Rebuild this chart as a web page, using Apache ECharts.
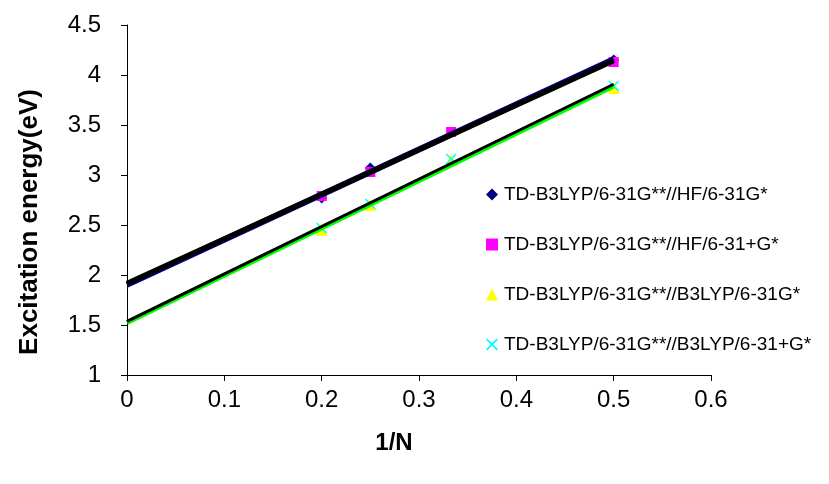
<!DOCTYPE html>
<html>
<head>
<meta charset="utf-8">
<script src="https://cdn.jsdelivr.net/npm/echarts@6/dist/echarts.min.js"></script>
<style>
  html, body { margin: 0; padding: 0; background: #fff; }
  #chart { width: 829px; height: 484px; }
</style>
</head>
<body>
<div id="chart"></div>
<script>
// Excitation energies (eV) against inverse chain length 1/N
const seriesNames = [
  'TD-B3LYP/6-31G**//HF/6-31G*',
  'TD-B3LYP/6-31G**//HF/6-31+G*',
  'TD-B3LYP/6-31G**//B3LYP/6-31G*',
  'TD-B3LYP/6-31G**//B3LYP/6-31+G*'
];
const hfSmallX = [0.2, 0.25, 0.5];
const hfSmallY = [2.77, 3.07, 4.15];
const hfDiffX = [0.2, 0.25, 0.333, 0.5];
const hfDiffY = [2.79, 3.03, 3.43, 4.13];
const b3SmallX = [0.2, 0.25, 0.333, 0.5];
const b3SmallY = [2.45, 2.70, 3.15, 3.87];
const b3DiffX = [0.2, 0.25, 0.333, 0.5];
const b3DiffY = [2.47, 2.71, 3.16, 3.89];
const xTicks = { min: 0, max: 0.6, step: 0.1 };
const yTicks = { min: 1, max: 4.5, step: 0.5 };
const xTitle = '1/N';
const yTitle = 'Excitation energy(eV)';
// trendlines run from 1/N = 0 out to the largest measured 1/N
const fitRange = [0, 0.5];

const FONT = 'Liberation Sans, Arial, sans-serif';

function pairs(xs, ys) { return xs.map((x, i) => [x, ys[i]]); }

// least-squares straight line through a set of points
function linearFit(xs, ys) {
  const n = xs.length;
  const mx = xs.reduce((a, b) => a + b, 0) / n;
  const my = ys.reduce((a, b) => a + b, 0) / n;
  let sxy = 0, sxx = 0;
  for (let i = 0; i < n; i++) {
    sxy += (xs[i] - mx) * (ys[i] - my);
    sxx += (xs[i] - mx) * (xs[i] - mx);
  }
  const slope = sxy / sxx;
  const icpt = my - slope * mx;
  return fitRange.map(x => [x, icpt + slope * x]);
}

const crossPath = 'path://M0,1L1,0L5,4L9,0L10,1L6,5L10,9L9,10L5,6L1,10L0,9L4,5Z';

const markerSeries = [
  { name: seriesNames[0], xs: hfSmallX, ys: hfSmallY, symbol: 'diamond', size: 11, color: '#000080' },
  { name: seriesNames[1], xs: hfDiffX, ys: hfDiffY, symbol: 'rect', size: 10, color: '#ff00ff' },
  { name: seriesNames[2], xs: b3SmallX, ys: b3SmallY, symbol: 'triangle', size: 12, color: '#ffff00' },
  { name: seriesNames[3], xs: b3DiffX, ys: b3DiffY, symbol: crossPath, size: 11, color: '#00ffff' }
].map(s => ({
  name: s.name,
  type: 'scatter',
  data: pairs(s.xs, s.ys),
  symbol: s.symbol,
  symbolSize: s.size,
  itemStyle: { color: s.color, opacity: 1 },
  z: 2
}));

// trendline styles: wide underlay colour first, black core line on top
const trendLines = [
  { xs: hfSmallX, ys: hfSmallY, color: '#000080', width: 6 },
  { xs: hfDiffX, ys: hfDiffY, color: '#000000', width: 5 },
  { xs: b3SmallX, ys: b3SmallY, color: '#00ff00', width: 5 },
  { xs: b3DiffX, ys: b3DiffY, color: '#000000', width: 3 }
].map((t, i) => ({
  type: 'line',
  data: linearFit(t.xs, t.ys),
  symbol: 'none',
  silent: true,
  lineStyle: { color: t.color, width: t.width },
  z: 3 + i
}));

const chart = echarts.init(document.getElementById('chart'), null, { renderer: 'canvas' });
chart.setOption({
  animation: false,
  backgroundColor: '#ffffff',
  textStyle: { fontFamily: FONT },
  grid: { left: 127, right: 118, top: 25, bottom: 109 },
  xAxis: {
    type: 'value',
    min: xTicks.min, max: xTicks.max, interval: xTicks.step,
    axisLine: { onZero: false, lineStyle: { color: '#000', width: 1 } },
    axisTick: { show: true, inside: false, length: 6, lineStyle: { color: '#000' } },
    axisLabel: { fontFamily: FONT, fontSize: 24, color: '#000', margin: 13 },
    splitLine: { show: false }
  },
  yAxis: {
    type: 'value',
    min: yTicks.min, max: yTicks.max, interval: yTicks.step,
    axisLine: { show: true, onZero: false, lineStyle: { color: '#000', width: 1 } },
    axisTick: { show: true, inside: false, length: 6, lineStyle: { color: '#000' } },
    axisLabel: { fontFamily: FONT, fontSize: 24, color: '#000', margin: 26 },
    splitLine: { show: false }
  },
  // axis titles
  graphic: [
    {
      type: 'text',
      x: 30, y: 222,
      rotation: Math.PI / 2,
      style: {
        text: yTitle,
        font: 'bold 26px ' + FONT,
        fill: '#000',
        align: 'center',
        verticalAlign: 'middle'
      }
    },
    {
      type: 'text',
      x: 394, y: 443,
      style: {
        text: xTitle,
        font: 'bold 24px ' + FONT,
        fill: '#000',
        align: 'center',
        verticalAlign: 'middle'
      }
    }
  ],
  legend: {
    data: seriesNames.map((n, i) => ({ name: n, icon: markerSeries[i].symbol })),
    orient: 'vertical',
    left: 481,
    top: 180,
    itemGap: 31,
    itemWidth: 12,
    itemHeight: 12,
    textStyle: { fontFamily: FONT, fontSize: 19, color: '#000', padding: [0, 0, 0, 1] }
  },
  series: markerSeries.concat(trendLines)
});
</script>
</body>
</html>
